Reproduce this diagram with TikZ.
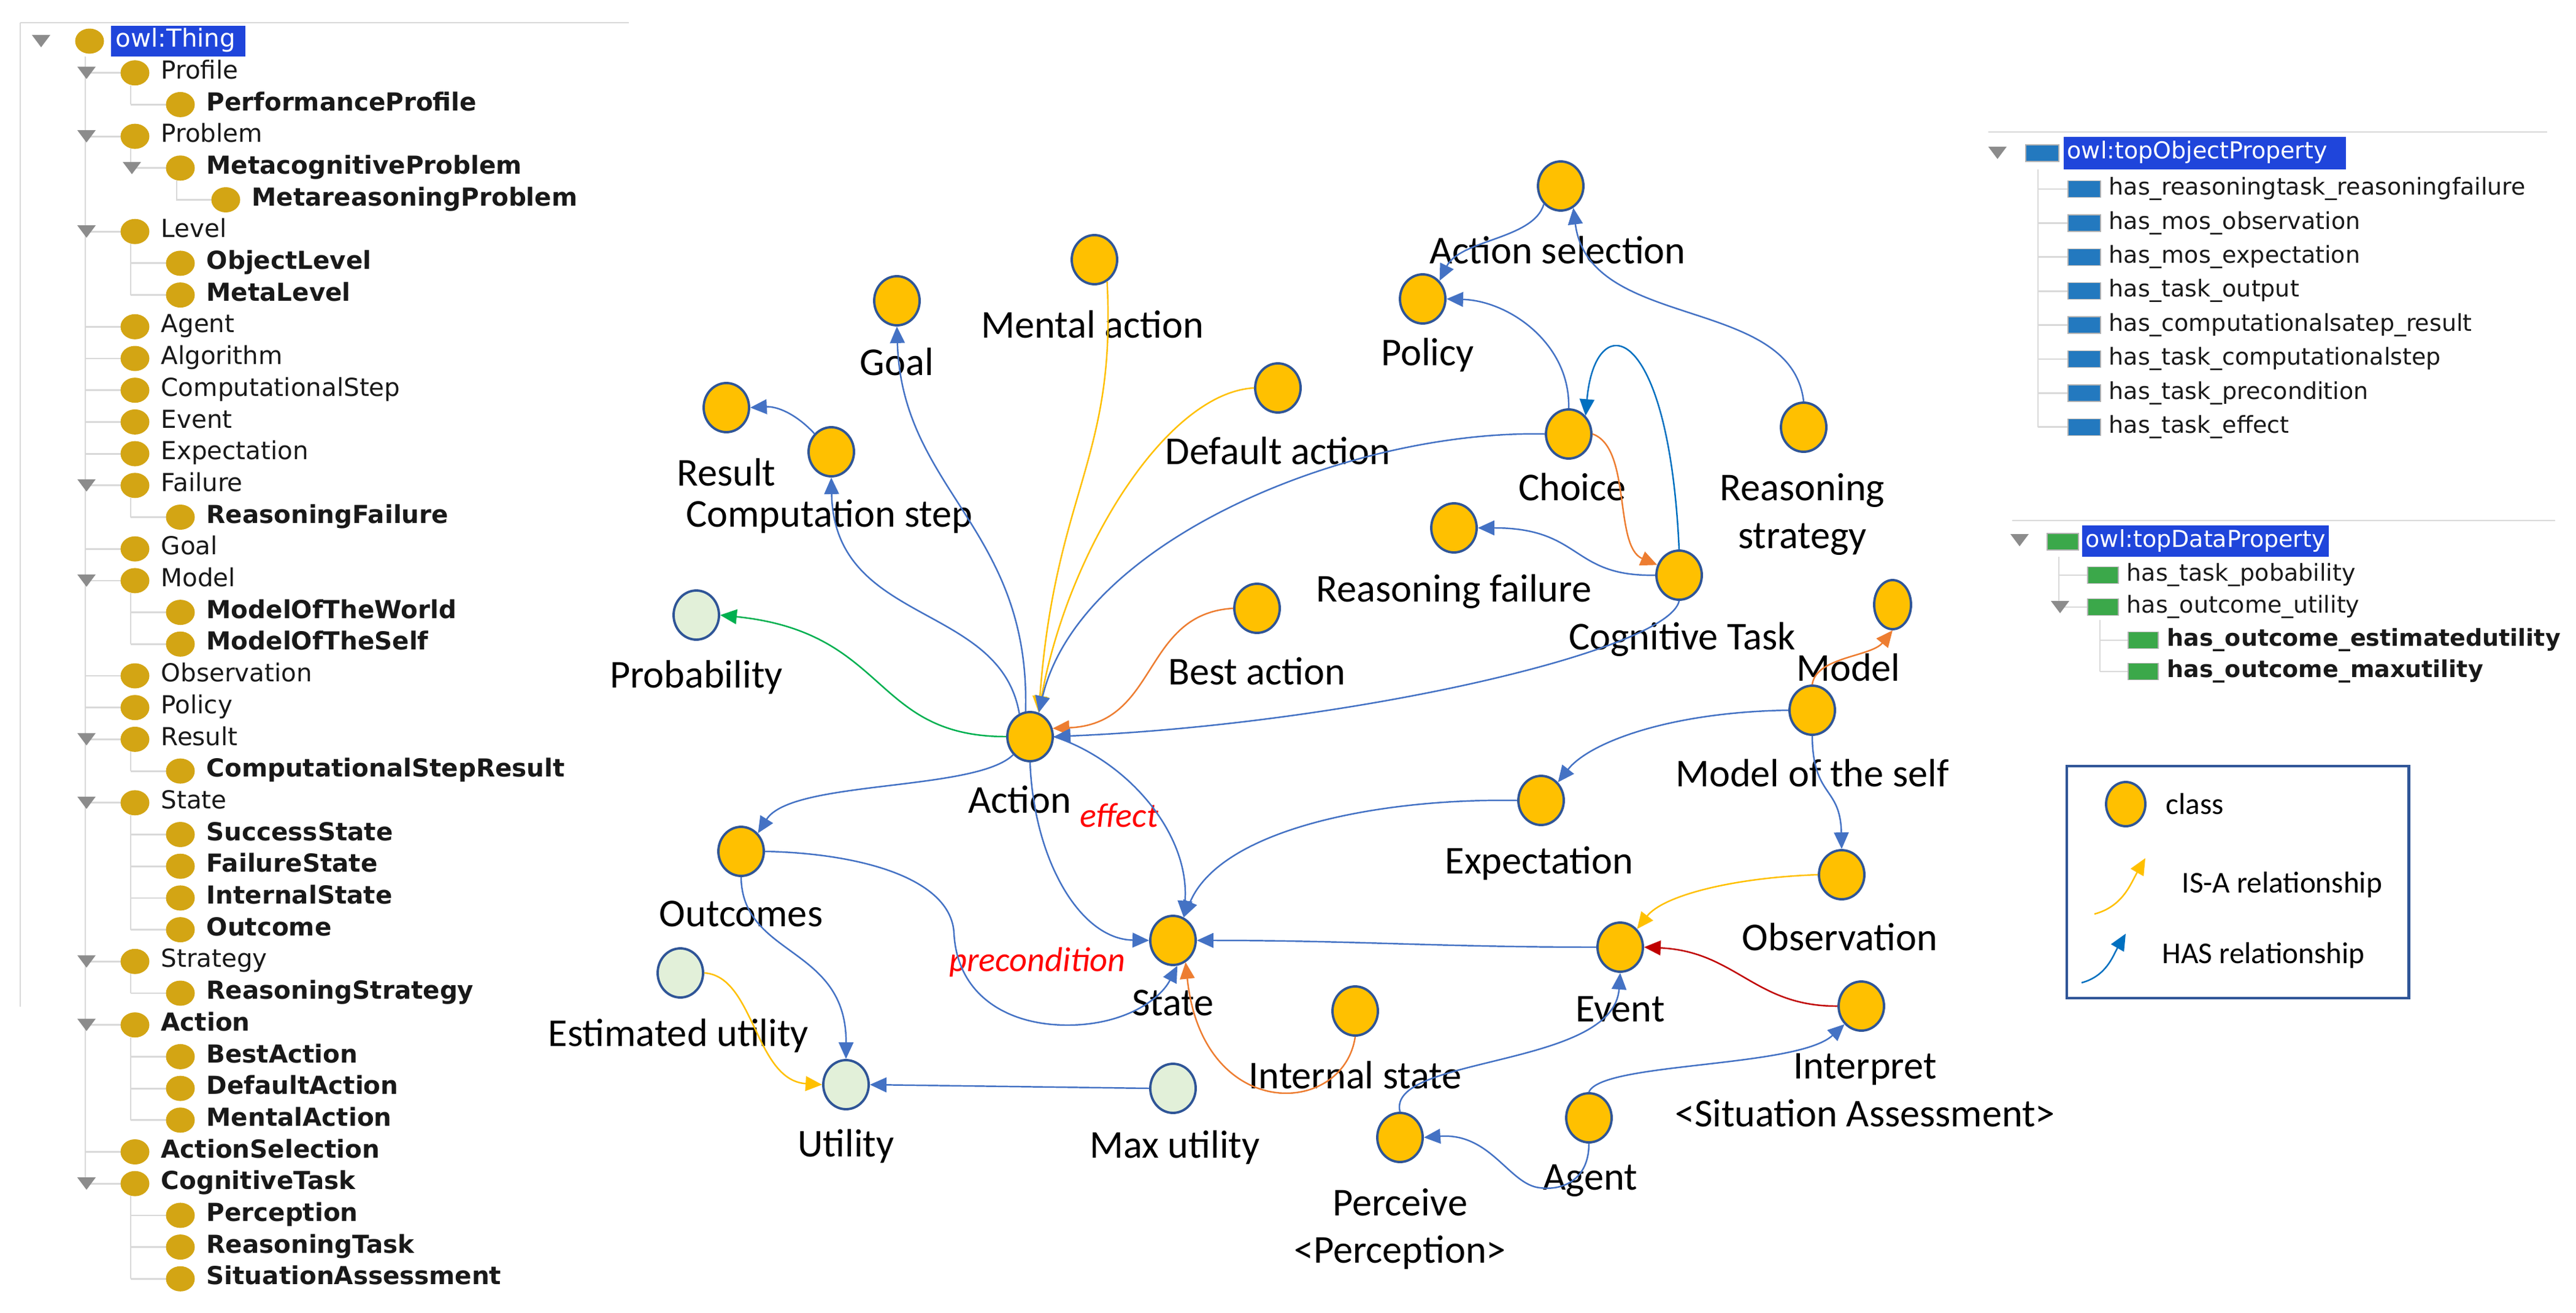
\documentclass[tikz,border=0pt]{standalone}
\usepackage{fontspec}
\setmainfont{Carlito}
\newfontfamily\treefont{DejaVu Sans}
\usetikzlibrary{arrows.meta,shapes.geometric}
\definecolor{clsfill}{HTML}{FFC000}
\definecolor{clsline}{HTML}{2F5597}
\definecolor{datfill}{HTML}{E2F0D9}
\definecolor{hasblue}{HTML}{4472C4}
\definecolor{loopblue}{HTML}{0070C0}
\definecolor{isayel}{HTML}{FFC000}
\definecolor{suborange}{HTML}{ED7D31}
\definecolor{probgreen}{HTML}{00B050}
\definecolor{evred}{HTML}{C00000}
\definecolor{relred}{HTML}{FF0000}
\definecolor{treegold}{HTML}{D3A514}
\definecolor{treeline}{HTML}{D9D9D9}
\definecolor{treetri}{HTML}{8C8C8C}
\definecolor{selblue}{HTML}{1F45DB}
\definecolor{objblue}{HTML}{2379BF}
\definecolor{datgreen}{HTML}{3BA84A}
\tikzset{
  cls/.style={ellipse, draw=clsline, fill=clsfill, line width=1.1pt, minimum width=0.74cm, minimum height=0.8cm, inner sep=0pt},
  dat/.style={cls, fill=datfill},
  lab/.style={text=black, font=\fontsize{18.3}{22}\selectfont, inner sep=0pt, align=center},
  rel/.style={text=relred, font=\fontsize{16}{19}\selectfont\itshape, inner sep=0pt},
  has/.style={draw=hasblue, line width=0.7pt, -{Triangle[length=0.27cm,width=0.24cm]}},
  hasdark/.style={has, draw=loopblue},
  isa/.style={has, draw=isayel},
  sub/.style={has, draw=suborange},
  grn/.style={has, draw=probgreen},
  evt/.style={has, draw=evred},
  leglab/.style={text=black, font=\fontsize{14}{17}\selectfont, inner sep=0pt, anchor=west},
  trline/.style={draw=treeline, line width=0.8pt},
  trtri/.style={fill=treetri},
  treetxt/.style={anchor=west, inner sep=0pt, text=black!90, text height=0.75em, text depth=0.2em},
  proptxt/.style={anchor=west, inner sep=0pt, text=black!90, font=\treefont\fontsize{10.8}{13}\selectfont, text height=0.75em, text depth=0.2em},
  objicon/.style={fill=objblue, draw=gray!60, line width=0.4pt},
  daticon/.style={fill=datgreen, draw=gray!60, line width=0.4pt}
}
\newcommand{\expander}[2]{\fill[trtri] (#1-0.15,#2+0.1) -- (#1+0.15,#2+0.1) -- (#1,#2-0.1) -- cycle;}

\begin{document}
\begin{tikzpicture}
  \useasboundingbox (0,0) rectangle (41.99,-21.39);

  % class hierarchy panel
  \draw[trline] (0.33,-0.37) -- (10.25,-0.37);
  \draw[trline] (0.33,-0.37) -- (0.33,-16.4);
  \draw[trline] (1.39,-0.92) -- (1.39,-19.28);
  \foreach \p/\q/\xx in {2/3/2.13, 4/5/2.13, 5/6/2.88, 7/9/2.13, 15/16/2.13, 18/20/2.13,
                         23/24/2.13, 25/29/2.13, 30/31/2.13, 32/35/2.13, 37/40/2.13}{
    \draw[trline] (\xx,{-0.67-0.517*(\p-1)-0.2}) -- (\xx,{-0.67-0.517*(\q-1)});
  }
  \fill[selblue] (1.81,-0.42) rectangle (4.00,-0.92);
  \fill[treegold] (1.46,-0.67) ellipse (0.235 and 0.205);
  \node[treetxt, text=white, font=\treefont\fontsize{11.5}{13}\selectfont] (t1) at (1.88,-0.67) {owl:Thing};
  \foreach \rw/\lv/\bd/\nm in {
    2/1/\mdseries/Profile, 3/2/\bfseries/PerformanceProfile, 4/1/\mdseries/Problem, 5/2/\bfseries/MetacognitiveProblem,
    6/3/\bfseries/MetareasoningProblem, 7/1/\mdseries/Level, 8/2/\bfseries/ObjectLevel, 9/2/\bfseries/MetaLevel,
    10/1/\mdseries/Agent, 11/1/\mdseries/Algorithm, 12/1/\mdseries/ComputationalStep, 13/1/\mdseries/Event,
    14/1/\mdseries/Expectation, 15/1/\mdseries/Failure, 16/2/\bfseries/ReasoningFailure, 17/1/\mdseries/Goal,
    18/1/\mdseries/Model, 19/2/\bfseries/ModelOfTheWorld, 20/2/\bfseries/ModelOfTheSelf, 21/1/\mdseries/Observation,
    22/1/\mdseries/Policy, 23/1/\mdseries/Result, 24/2/\bfseries/ComputationalStepResult, 25/1/\mdseries/State,
    26/2/\bfseries/SuccessState, 27/2/\bfseries/FailureState, 28/2/\bfseries/InternalState, 29/2/\bfseries/Outcome,
    30/1/\mdseries/Strategy, 31/2/\bfseries/ReasoningStrategy, 32/1/\bfseries/Action, 33/2/\bfseries/BestAction,
    34/2/\bfseries/DefaultAction, 35/2/\bfseries/MentalAction, 36/1/\bfseries/ActionSelection, 37/1/\bfseries/CognitiveTask,
    38/2/\bfseries/Perception, 39/2/\bfseries/ReasoningTask, 40/2/\bfseries/SituationAssessment}{
    \pgfmathsetmacro{\yy}{-0.67-0.517*(\rw-1)}
    \pgfmathsetmacro{\xl}{0.65+0.74*\lv}
    \pgfmathsetmacro{\xc}{1.46+0.74*\lv}
    \pgfmathsetmacro{\xt}{1.88+0.74*\lv}
    \draw[trline] (\xl,\yy) -- (\xc-0.2,\yy);
    \fill[treegold] (\xc,\yy) ellipse (0.235 and 0.205);
    \node[treetxt, font=\treefont\fontsize{11.5}{13}\selectfont\bd] (t\rw) at (\xt,\yy) {\nm};
  }
  \foreach \rw/\lv in {1/0, 2/1, 4/1, 5/2, 7/1, 15/1, 18/1, 23/1, 25/1, 30/1, 32/1, 37/1}{
    \pgfmathsetmacro{\yy}{-0.67-0.517*(\rw-1)}
    \pgfmathsetmacro{\xl}{0.67+0.74*\lv}
    \expander{\xl}{\yy}
  }

  % object properties
  \draw[trline] (32.41,-2.15) -- (41.52,-2.15);
  \expander{32.56}{-2.49}
  \fill[selblue] (33.64,-2.23) rectangle (38.24,-2.76);
  \draw[objicon] (33.02,-2.36) rectangle (33.56,-2.63);
  \node[proptxt, text=white] (topobj) at (33.69,-2.49) {owl:topObjectProperty};
  \draw[trline] (33.22,-2.76) -- (33.22,-6.96);
  \foreach \i/\nm in {1/has\_reasoningtask\_reasoningfailure, 2/has\_mos\_observation,
                      3/has\_mos\_expectation, 4/has\_task\_output, 5/has\_computationalsatep\_result,
                      6/has\_task\_computationalstep, 7/has\_task\_precondition, 8/has\_task\_effect}{
    \pgfmathsetmacro{\yy}{-3.08-0.554*(\i-1)}
    \draw[trline] (33.22,\yy) -- (33.71,\yy);
    \draw[objicon] (33.71,\yy+0.135) rectangle (34.24,\yy-0.135);
    \node[proptxt] (op\i) at (34.37,\yy) {\nm};
  }

  % data properties
  \draw[trline] (32.80,-8.48) -- (41.65,-8.48);
  \expander{32.92}{-8.80}
  \fill[selblue] (33.94,-8.56) rectangle (37.96,-9.07);
  \draw[daticon] (33.37,-8.69) rectangle (33.88,-8.96);
  \node[proptxt, text=white] (topdat) at (33.99,-8.82) {owl:topDataProperty};
  \draw[trline] (33.56,-9.07) -- (33.56,-9.89);
  \draw[trline] (33.56,-9.37) -- (34.03,-9.37);
  \draw[trline] (33.56,-9.89) -- (34.03,-9.89);
  \expander{33.58}{-9.89}
  \draw[trline] (34.23,-10.10) -- (34.23,-10.94);
  \draw[trline] (34.23,-10.43) -- (34.69,-10.43);
  \draw[trline] (34.23,-10.94) -- (34.69,-10.94);
  \draw[daticon] (34.03,-9.235) rectangle (34.53,-9.505);
  \draw[daticon] (34.03,-9.755) rectangle (34.53,-10.025);
  \draw[daticon] (34.69,-10.295) rectangle (35.18,-10.565);
  \draw[daticon] (34.69,-10.805) rectangle (35.18,-11.075);
  \node[proptxt] (dp1) at (34.66,-9.37) {has\_task\_pobability};
  \node[proptxt] (dp2) at (34.66,-9.89) {has\_outcome\_utility};
  \node[proptxt, font=\treefont\fontsize{10.8}{13}\selectfont\bfseries] (dp3) at (35.32,-10.43) {has\_outcome\_estimatedutility};
  \node[proptxt, font=\treefont\fontsize{10.8}{13}\selectfont\bfseries] (dp4) at (35.32,-10.94) {has\_outcome\_maxutility};

  % classes
  \node[cls] (goal) at (14.62,-4.90) {};
  \node[cls] (mental) at (17.84,-4.23) {};
  \node[cls] (result) at (11.84,-6.64) {};
  \node[cls] (cstep) at (13.55,-7.36) {};
  \node[cls] (default) at (20.83,-6.32) {};
  \node[dat] (prob) at (11.35,-10.02) {};
  \node[cls] (best) at (20.49,-9.91) {};
  \node[cls] (action) at (16.79,-12.00) {};
  \node[cls] (actsel) at (25.44,-3.03) {};
  \node[cls] (policy) at (23.19,-4.87) {};
  \node[cls] (choice) at (25.57,-7.07) {};
  \node[cls] (rstrat) at (29.40,-6.96) {};
  \node[cls] (rfail) at (23.70,-8.60) {};
  \node[cls] (cogtask) at (27.37,-9.37) {};
  \node[cls, minimum width=0.6cm] (model) at (30.85,-9.85) {};
  \node[cls] (mots) at (29.54,-11.57) {};
  \node[cls] (expect) at (25.12,-13.04) {};
  \node[cls] (obs) at (30.02,-14.25) {};
  \node[cls] (outcomes) at (12.08,-13.87) {};
  \node[cls] (state) at (19.12,-15.32) {};
  \node[cls] (event) at (26.41,-15.43) {};
  \node[cls] (interp) at (30.34,-16.39) {};
  \node[cls] (intstate) at (22.09,-16.47) {};
  \node[dat] (estutil) at (11.09,-15.85) {};
  \node[dat] (utility) at (13.79,-17.67) {};
  \node[dat] (maxutil) at (19.12,-17.73) {};
  \node[cls] (agent) at (25.90,-18.21) {};
  \node[cls] (perceive) at (22.82,-18.53) {};

  \node[lab] (goal-l) at (14.62,-5.89) {Goal};
  \node[lab] (mental-l) at (17.81,-5.28) {Mental action};
  \node[lab] (result-l) at (11.84,-7.69) {Result};
  \node[lab] (cstep-l) at (13.52,-8.41) {Computation step};
  \node[lab] (default-l) at (20.83,-7.34) {Default action};
  \node[lab] (prob-l) at (11.35,-11.03) {Probability};
  \node[lab] (best-l) at (20.49,-10.93) {Best action};
  \node[lab] (action-l) at (16.62,-13.02) {Action};
  \node[rel] (effect-l) at (18.24,-13.28) {effect};
  \node[lab] (actsel-l) at (25.39,-4.07) {Action selection};
  \node[lab] (policy-l) at (23.27,-5.78) {Policy};
  \node[lab] (choice-l) at (25.63,-7.93) {Choice};
  \node[lab] (rstrat-l) at (29.38,-8.38) {Reasoning\\strategy};
  \node[lab] (rfail-l) at (23.70,-9.64) {Reasoning failure};
  \node[lab] (cogtask-l) at (27.42,-10.42) {Cognitive Task};
  \node[lab] (model-l) at (30.13,-10.87) {Model};
  \node[lab] (mots-l) at (29.54,-12.59) {Model of the self};
  \node[lab] (expect-l) at (25.09,-14.06) {Expectation};
  \node[lab] (obs-l) at (29.99,-15.26) {Observation};
  \node[lab] (outcomes-l) at (12.08,-14.89) {Outcomes};
  \node[rel] (precond-l) at (16.91,-15.67) {precondition};
  \node[lab] (state-l) at (19.12,-16.34) {State};
  \node[lab] (event-l) at (26.41,-16.44) {Event};
  \node[lab] (interp-l) at (30.40,-17.76) {Interpret\\<Situation Assessment>};
  \node[lab] (intstate-l) at (22.09,-17.51) {Internal state};
  \node[lab] (estutil-l) at (11.06,-16.87) {Estimated utility};
  \node[lab] (utility-l) at (13.79,-18.67) {Utility};
  \node[lab] (maxutil-l) at (19.15,-18.69) {Max utility};
  \node[lab] (agent-l) at (25.92,-19.23) {Agent};
  \node[lab] (perceive-l) at (22.82,-20.02) {Perceive\\<Perception>};

  % relations
  \draw[has] (action.100) .. controls (16.8,-8.6) and (14.7,-8.0) .. (goal.south);
  \draw[has] (action.115) .. controls (16.3,-9.8) and (13.6,-10.2) .. (cstep.south);
  \draw[has] (cstep.north west) to[bend right=25] (result.east);
  \draw[isa] (mental.-60) .. controls (18.2,-7.5) and (17.2,-8.0) .. (action.70);
  \draw[isa] (default.west) .. controls (19.0,-6.4) and (17.4,-9.0) .. (action.70);
  \draw[has] (choice.west) .. controls (22.0,-7.0) and (17.6,-8.8) .. (action.70);
  \draw[sub] (best.west) .. controls (18.6,-10.0) and (18.9,-11.8) .. (action.20);
  \draw[has] (cogtask.south) .. controls (27.2,-10.6) and (22.0,-11.8) .. (action.east);
  \draw[grn] (action.west) .. controls (14.2,-12.0) and (14.5,-10.3) .. (prob.east);
  \draw[has] (action.south west) .. controls (15.9,-12.9) and (12.9,-12.7) .. (outcomes.north east);
  \draw[has] (action.south) .. controls (16.85,-14.0) and (17.6,-15.3) .. (state.west);
  \draw[has] (action.east) .. controls (18.4,-12.4) and (19.4,-13.6) .. (state.65);
  \draw[has] (outcomes.east) .. controls (14.0,-13.9) and (15.5,-14.3) .. (15.55,-15.2)
    .. controls (15.6,-16.2) and (16.4,-16.7) .. (17.4,-16.7)
    .. controls (18.3,-16.7) and (18.9,-16.3) .. (state.-80);
  \draw[has] (outcomes.south) .. controls (12.1,-15.6) and (13.8,-15.4) .. (utility.north);
  \draw[isa] (estutil.east) .. controls (12.3,-15.9) and (12.3,-17.6) .. (utility.west);
  \draw[has] (maxutil.west) -- (utility.east);
  \draw[has] (event.west) to[out=180,in=0] (state.east);
  \draw[has] (expect.west) .. controls (22.5,-13.0) and (19.9,-13.5) .. (state.65);
  \draw[has] (mots.west) .. controls (27.2,-11.6) and (25.9,-12.1) .. (expect.north east);
  \draw[has] (mots.south) .. controls (29.55,-13.0) and (30.0,-12.8) .. (obs.north);
  \draw[sub] (mots.north) .. controls (29.6,-10.7) and (30.5,-10.7) .. (model.south);
  \draw[isa] (obs.west) .. controls (28.2,-14.3) and (27.1,-14.6) .. (event.north east);
  \draw[evt] (interp.west) .. controls (28.6,-16.4) and (28.3,-15.5) .. (event.east);
  \draw[has] (perceive.north) .. controls (22.6,-17.2) and (26.3,-17.4) .. (event.south);
  \draw[has] (agent.south) .. controls (25.9,-19.2) and (25.5,-19.4) .. (25.1,-19.35)
    .. controls (24.6,-19.3) and (24.3,-18.45) .. (perceive.east);
  \draw[has] (agent.north) .. controls (26.1,-17.3) and (29.3,-17.4) .. (interp.south west);
  \draw[sub] (intstate.south) .. controls (21.9,-18.2) and (19.6,-18.3) .. (state.-60);
  \draw[has] (cogtask.west) .. controls (25.6,-9.4) and (25.8,-8.6) .. (rfail.east);
  \draw[sub] (choice.east) .. controls (26.6,-7.3) and (26.3,-8.9) .. (cogtask.155);
  \draw[hasdark] (cogtask.north) .. controls (27.2,-5.2) and (26.0,-5.0) .. (choice.north east);
  \draw[has] (choice.north) .. controls (25.6,-5.6) and (24.6,-4.9) .. (policy.east);
  \draw[has] (actsel.south west) .. controls (25.0,-3.9) and (23.8,-3.9) .. (policy.north east);
  \draw[has] (rstrat.north) .. controls (29.2,-4.8) and (25.9,-5.4) .. (actsel.-60);

  % legend
  \draw[draw=clsline, line width=1.4pt] (33.69,-12.48) rectangle (39.26,-16.26);
  \node[cls, minimum width=0.64cm, minimum height=0.72cm] (legcls) at (34.65,-13.10) {};
  \node[leglab] (legcls-l) at (35.30,-13.10) {class};
  \coordinate (legisa-a) at (34.14,-14.89);
  \coordinate (legisa-b) at (34.97,-13.98);
  \draw[isa] (legisa-a) to[out=15,in=240] (legisa-b);
  \node[leglab] (legisa-l) at (35.56,-14.41) {IS-A relationship};
  \coordinate (leghas-a) at (33.93,-16.01);
  \coordinate (leghas-b) at (34.65,-15.21);
  \draw[hasdark] (leghas-a) to[out=15,in=240] (leghas-b);
  \node[leglab] (leghas-l) at (35.24,-15.56) {HAS relationship};
\end{tikzpicture}
\end{document}
